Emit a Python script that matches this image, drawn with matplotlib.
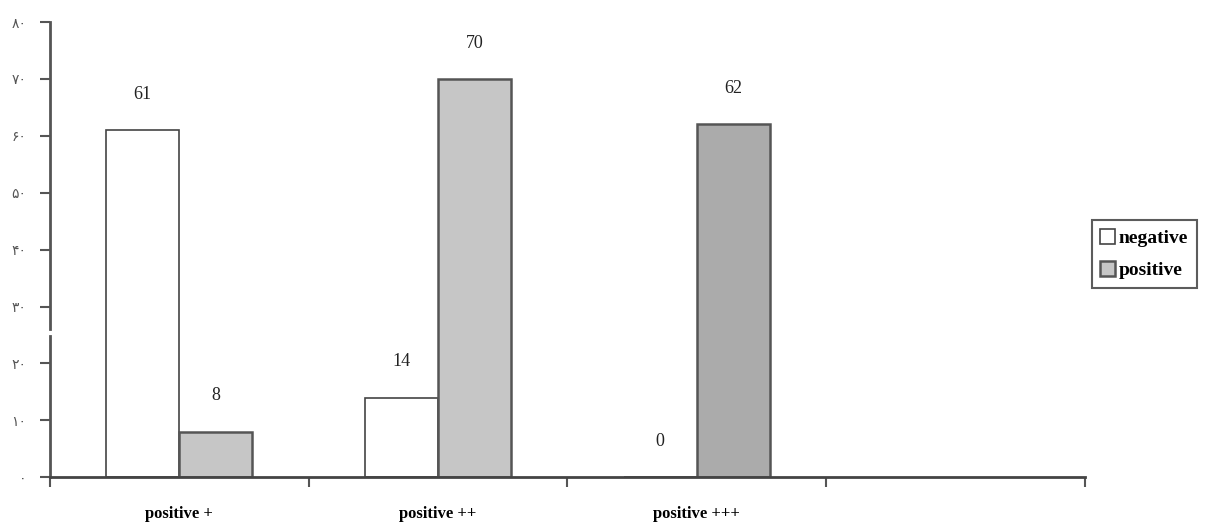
import matplotlib.pyplot as plt
import numpy as np

# Data
categories = ['positive +', 'positive ++', 'positive +++']
negative = [61, 14, 0]
positive = [8, 70, 62]
y_ticks = [0, 10, 20, 30, 40, 50, 60, 70, 80]
y_tick_labels = ['۰', '۱۰', '۲۰', '۳۰', '۴۰', '۵۰', '۶۰', '۷۰', '۸۰']

pos_colors = ['#c6c6c6', '#c6c6c6', '#ababab']

fig = plt.figure(figsize=(12.15, 5.25), dpi=100)
ax = fig.add_axes([0.041, 0.091, 0.852, 0.867])

x = np.arange(len(categories)) + 0.5
w = 0.283

ax.bar(x - w / 2, negative, w, color='white', edgecolor='#444444', linewidth=1.2,
       label='negative')
ax.bar(x + w / 2, positive, w, color=pos_colors, edgecolor='#555555', linewidth=1.8,
       label='positive')

for xi, v in zip(x - w / 2, negative):
    ax.text(xi, v + 4.8, str(v), ha='center', va='bottom', fontsize=13,
            family='Liberation Serif', color='#222222')
for xi, v in zip(x + w / 2, positive):
    ax.text(xi, v + 4.8, str(v), ha='center', va='bottom', fontsize=13,
            family='Liberation Serif', color='#222222')

ax.set_xlim(0, 4)
ax.set_ylim(0, 80)

ax.set_yticks(y_ticks)
ax.set_yticklabels(y_tick_labels, family=['DejaVu Sans'], fontsize=10, color='#555555')
ax.tick_params(axis='y', direction='out', length=7, width=1.5, color='#555555', pad=10)

# category boundaries get ticks, names sit in the middle of each slot
ax.set_xticks([0, 1, 2, 3, 4])
ax.set_xticklabels([])
ax.set_xticks(x, minor=True)
ax.set_xticklabels(categories, minor=True, family='Liberation Serif',
                   fontweight='bold', fontsize=12)
ax.tick_params(axis='x', which='major', direction='out', length=7, width=1.5,
               color='#555555')
ax.tick_params(axis='x', which='minor', length=0, pad=21)

for s in ['top', 'right']:
    ax.spines[s].set_visible(False)
ax.spines['bottom'].set_linewidth(2)
ax.spines['bottom'].set_color('#444444')
ax.spines['left'].set_visible(False)

# broken y axis line between 20 and 30
ax.axvline(0, ymin=0, ymax=0.31, color='#555555', lw=2, clip_on=False)
ax.axvline(0, ymin=0.325, ymax=1, color='#555555', lw=2, clip_on=False)

leg = ax.legend(loc='center left', bbox_to_anchor=(0.997, 0.49), frameon=True,
                fancybox=False, edgecolor='#333333', handlelength=0.75,
                handleheight=0.8, handletextpad=0.2, borderpad=0.45,
                labelspacing=0.7, prop={'family': 'Liberation Serif',
                                        'weight': 'bold', 'size': 14})
leg.get_frame().set_linewidth(1.5)

fig.savefig('out.png')
